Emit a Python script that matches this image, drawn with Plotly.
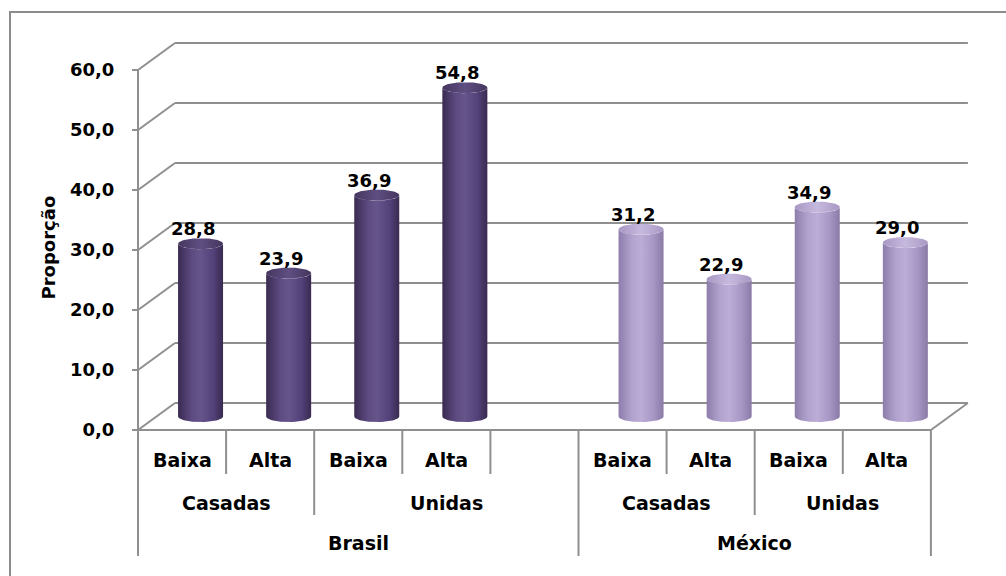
import numpy as np
import plotly.graph_objects as go

# ---- data ----
countries = ["Brasil", "México"]
unions = ["Casadas", "Unidas"]
levels = ["Baixa", "Alta"]
brasil_values = [28.8, 23.9, 36.9, 54.8]
mexico_values = [31.2, 22.9, 34.9, 29.0]
y_ticks = [0, 10, 20, 30, 40, 50, 60]

# ---- page / projection geometry (pixels) ----
W, H = 1006, 576
SLOT_PX = 88.1          # width of one category slot
UNIT_PX = 6.0           # pixels per 1 unit of "Proporção"
X0_PX, Y0_PX = 138, 430 # front-left corner of the floor
DEPTH_DX_PX, DEPTH_DY_PX = 37, 27  # 3D depth offset of the back wall

DX = DEPTH_DX_PX / SLOT_PX   # depth offset in slot units
DV = DEPTH_DY_PX / UNIT_PX   # depth offset in value units


def px_x(px):
    return (px - X0_PX) / SLOT_PX


def px_y(py):
    return (Y0_PX - py) / UNIT_PX


# category layout: Brasil / Unidas holds a trailing blank slot
layout_groups = [
    ("Brasil", [("Casadas", ["Baixa", "Alta"]), ("Unidas", ["Baixa", "Alta", ""])], brasil_values),
    ("México", [("Casadas", ["Baixa", "Alta"]), ("Unidas", ["Baixa", "Alta"])], mexico_values),
]

bars = []          # (slot, value, country)
lvl1 = []          # (slot, text)
lvl2 = []          # (start, end, text)
lvl3 = []          # (start, end, text)
boundaries = {}    # slot boundary -> depth level
slot = 0
for country, ulist, vals in layout_groups:
    c_start = slot
    vi = 0
    for union, lv in ulist:
        u_start = slot
        for name in lv:
            lvl1.append((slot, name))
            if name:
                bars.append((slot, vals[vi], country))
                vi += 1
            boundaries.setdefault(slot, 1)
            slot += 1
        lvl2.append((u_start, slot, union))
        boundaries[u_start] = max(boundaries.get(u_start, 1), 2)
    lvl3.append((c_start, slot, country))
    boundaries[c_start] = 3
boundaries[slot] = 3
n_slots = slot

GRID = "#8f8f8f"
FONT = "DejaVu Sans, Liberation Sans, sans-serif"

fig = go.Figure()
shapes = []


def seg(x0, y0, x1, y1, color=GRID, width=2):
    shapes.append(dict(type="line", xref="x", yref="y", x0=x0, y0=y0, x1=x1, y1=y1,
                       line=dict(color=color, width=width), layer="below"))


# side wall + back wall gridlines
for t in y_ticks:
    seg(0, t, DX, t + DV)
    seg(DX, t + DV, n_slots + DX, t + DV)
# front axis line
seg(0, 0, 0, y_ticks[-1])
# floor edges
seg(0, 0, n_slots, 0)
seg(n_slots, 0, n_slots + DX, DV)

# category dividers
depth_px = {1: 474, 2: 515, 3: 556}
for b, lvl in boundaries.items():
    seg(b, 0, b, px_y(depth_px[lvl]))

# outer frame
shapes.append(dict(type="rect", xref="paper", yref="paper",
                   x0=10 / W, x1=1.02, y0=-0.02, y1=1 - 12 / H,
                   line=dict(color="#8c8c8c", width=2), layer="below"))

# cylinders
HALF_W = 22.5 / SLOT_PX
ELL_B = 5.5 / UNIT_PX
styles = {
    "Brasil": dict(
        side=[[0, "#3a2b52"], [0.3, "#5c4a80"], [0.5, "#66558b"], [0.78, "#53427a"], [1, "#382a50"]],
        cap=[[0, "#45365f"], [0.5, "#5f4e82"], [1, "#45365f"]],
    ),
    "México": dict(
        side=[[0, "#8d7dab"], [0.3, "#b2a3ce"], [0.5, "#bbadd6"], [0.78, "#a696c4"], [1, "#8a7aa6"]],
        cap=[[0, "#a898c4"], [0.5, "#c6b9de"], [1, "#a898c4"]],
    ),
}
theta_lo = np.linspace(np.pi, 2 * np.pi, 40)
theta_hi = theta_lo[::-1]
theta_full = np.linspace(0, 2 * np.pi, 80)

annotations = []
for s, v, country in bars:
    cx = s + 0.5 + DX / 2
    vb = DV / 2
    vt = v + DV / 2
    xs = np.concatenate([cx + HALF_W * np.cos(theta_lo), cx + HALF_W * np.cos(theta_hi)])
    ys = np.concatenate([vb + ELL_B * np.sin(theta_lo), vt + ELL_B * np.sin(theta_hi)])
    xs = np.append(xs, xs[0])
    ys = np.append(ys, ys[0])
    fig.add_trace(go.Scatter(x=xs, y=ys, mode="lines", fill="toself",
                             fillgradient=dict(type="horizontal", colorscale=styles[country]["side"]),
                             line=dict(width=0), hoverinfo="skip", showlegend=False))
    fig.add_trace(go.Scatter(x=cx + HALF_W * np.cos(theta_full), y=vt + ELL_B * np.sin(theta_full),
                             mode="lines", fill="toself",
                             fillgradient=dict(type="horizontal", colorscale=styles[country]["cap"]),
                             line=dict(width=0), hoverinfo="skip", showlegend=False))
    annotations.append(dict(x=cx, y=vt, xref="x", yref="y", text=f"{v:.1f}".replace(".", ","),
                            showarrow=False, yanchor="middle", yshift=15, xshift=-8,
                            font=dict(family=FONT, size=18, color="black", weight="bold")))

# category labels
for s, name in lvl1:
    if name:
        annotations.append(dict(x=s + 0.5, y=px_y(460), xref="x", yref="y", text=name,
                                showarrow=False, font=dict(family=FONT, size=19, color="black", weight="bold")))
for a, b, name in lvl2:
    annotations.append(dict(x=(a + b) / 2, y=px_y(503), xref="x", yref="y", text=name,
                            showarrow=False, font=dict(family=FONT, size=19, color="black", weight="bold")))
for a, b, name in lvl3:
    annotations.append(dict(x=(a + b) / 2, y=px_y(543), xref="x", yref="y", text=name,
                            showarrow=False, font=dict(family=FONT, size=19, color="black", weight="bold")))

# axis title
annotations.append(dict(x=35 / W, y=1 - 248 / H, xref="paper", yref="paper", text="Proporção",
                        textangle=-90, showarrow=False,
                        font=dict(family=FONT, size=18, color="black", weight="bold")))

fig.update_layout(
    width=W, height=H, autosize=False,
    margin=dict(l=0, r=0, t=0, b=0, pad=0),
    paper_bgcolor="white", plot_bgcolor="white",
    separators=",.",
    showlegend=False,
    shapes=shapes,
    annotations=annotations,
    xaxis=dict(range=[px_x(0), px_x(W)], visible=False, fixedrange=True),
    yaxis=dict(range=[px_y(H), px_y(0)], anchor="free", position=X0_PX / W,
               showline=False, showgrid=False, zeroline=False,
               tickvals=y_ticks, tickformat=".1f", ticks="outside", ticklen=6,
               tickwidth=2, tickcolor=GRID, ticklabelstandoff=14,
               tickfont=dict(family=FONT, size=18, color="black", weight="bold"),
               fixedrange=True),
)

fig.write_html("out.html")
